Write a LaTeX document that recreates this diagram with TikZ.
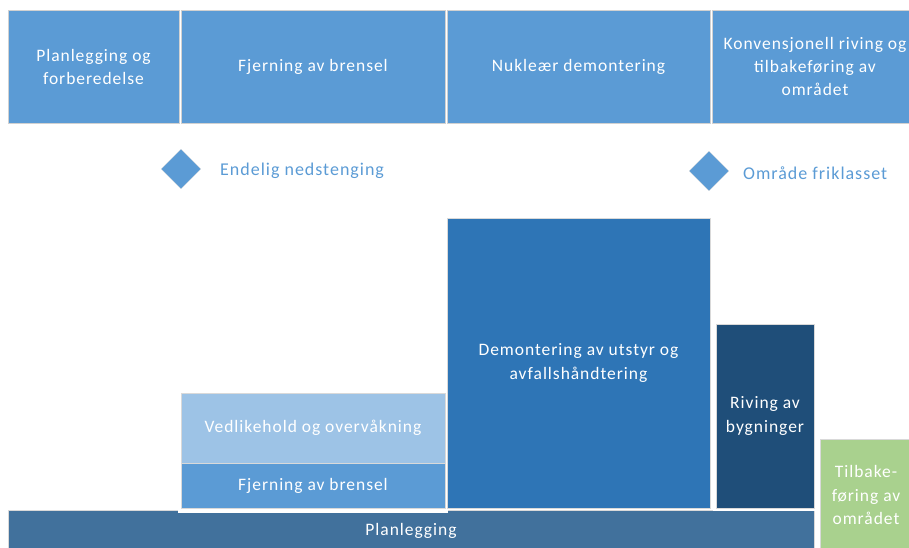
\documentclass[tikz,border=0pt]{standalone}
\usepackage{fontspec}
\setmainfont{Carlito}[LetterSpace=5.5]
\usetikzlibrary{shapes.geometric}

\definecolor{phaseblue}{HTML}{5B9BD5}
\definecolor{lightblue}{HTML}{9DC3E6}
\definecolor{midblue}{HTML}{2E75B6}
\definecolor{darkblue}{HTML}{1F4E79}
\definecolor{barblue}{HTML}{41719C}
\definecolor{restgreen}{HTML}{A9D18E}

\tikzset{
	phasebox/.style={draw=black!18, line width=0.8pt, fill=phaseblue, text=white, align=center, inner sep=0pt, font=\fontsize{17.5}{23}\selectfont},
	workbox/.style={draw=black!15, line width=0.6pt, text=white, align=center, inner sep=0pt, font=\fontsize{17.5}{23.5}\selectfont},
	milestone/.style={diamond, fill=phaseblue, draw=black!12, minimum width=40pt, minimum height=40pt, inner sep=0pt},
	milelabel/.style={anchor=west, text=phaseblue, inner sep=0pt, font=\fontsize{18}{22}\selectfont}
}

\begin{document}
\begin{tikzpicture}[x=1pt, y=-1pt]
	\useasboundingbox (0, 0) rectangle (909, 548);

	% faser
	\node[phasebox, minimum width=171pt, minimum height=113pt] (prep) at (93.5, 66.5) {Planlegging og\\forberedelse};
	\node[phasebox, minimum width=264pt, minimum height=113pt] (fuel) at (313, 66.5) {Fjerning av brensel};
	\node[phasebox, minimum width=263pt, minimum height=113pt] (nucl) at (578.5, 66.5) {Nukleær demontering};
	\node[phasebox, minimum width=206pt, minimum height=113pt] (conv) at (815, 66.5) {Konvensjonell riving og\\tilbakeføring av\\området};

	% milepæler
	\node[milestone] (shut) at (181, 169) {};
	\node[milelabel] (shuttext) at (220, 171) {Endelig nedstenging};
	\node[milestone] (clear) at (709, 171) {};
	\node[milelabel] (cleartext) at (743, 173) {Område friklasset};

	% aktiviteter
	\node[workbox, fill=barblue, minimum width=806pt, minimum height=42pt] (plan) at (411, 531) {Planlegging};
	\fill[white] (178, 390) rectangle (448, 513);
	\fill[white] (713, 321) rectangle (817, 511);
	\node[workbox, fill=lightblue, minimum width=264pt, minimum height=70pt] (maint) at (313, 428) {Vedlikehold og overvåkning};
	\node[workbox, fill=phaseblue, minimum width=264pt, minimum height=45pt] (defuel) at (313, 485.5) {Fjerning av brensel};
	\node[workbox, fill=midblue, minimum width=263pt, minimum height=290pt] (dism) at (578.5, 363) {Demontering av utstyr og\\avfallshåndtering};
	\node[workbox, fill=darkblue, minimum width=98pt, minimum height=184pt] (demol) at (765, 416) {Riving av\\bygninger};
	\node[workbox, fill=restgreen, minimum width=92pt, minimum height=112pt] (rest) at (866, 495) {Tilbake-\\føring av\\området};

\end{tikzpicture}
\end{document}
